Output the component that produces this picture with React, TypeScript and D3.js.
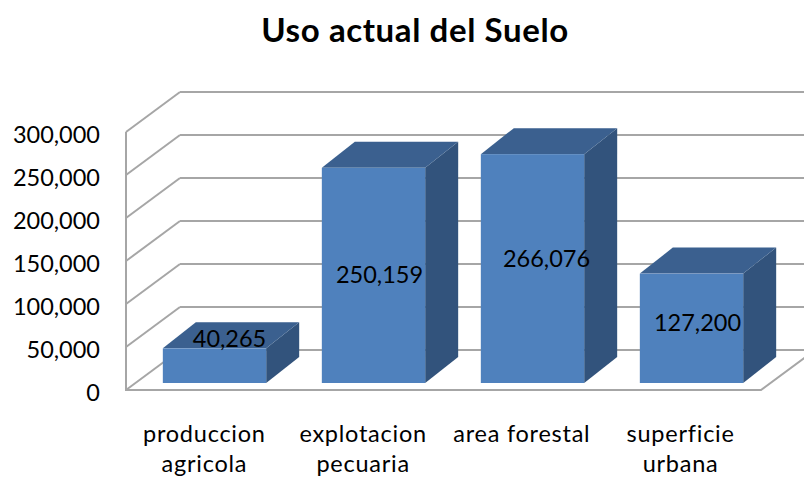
import * as d3 from "d3";

const CATEGORIES = ["produccion agricola", "explotacion pecuaria", "area forestal", "superficie urbana"];
const CATEGORY_LINES = [["produccion", "agricola"], ["explotacion", "pecuaria"], ["area forestal"], ["superficie", "urbana"]];
const VALUES = [40265, 250159, 266076, 127200];
const TICKS = [0, 50000, 100000, 150000, 200000, 250000, 300000];

const FONT = "Lato, 'Open Sans', sans-serif";
const GRID = "#a6a6a6";

// 3D projection of the chart box
const DEPTH_X = 54;
const DEPTH_Y = 40;
const BAR_DEPTH_X = 33;
const BAR_DEPTH_Y = 26;
const BAR_LIFT = 7;

// labels are not centred on the bars in the original
const LABEL_DX = [15, 6, 14, 6];
const LABEL_Y = [339, 275, 259, 323];

export default function App() {
  const width = 804;
  const height = 478;

  const y = d3.scaleLinear().domain([0, 300000]).range([390, 132]);
  const barX = d3.scaleBand<string>().domain(CATEGORIES).range([135, 771]).paddingInner(0.35).paddingOuter(0.175);
  const axisX = d3.scaleBand<string>().domain(CATEGORIES).range([126, 761]);
  const fmt = d3.format(",");

  const left = 126;
  const backLeft = left + DEPTH_X;

  return (
    <svg
      width={width}
      height={height}
      viewBox={`0 0 ${width} ${height}`}
      style={{ position: "absolute", left: 0, top: 0, background: "#fff" }}
      fontFamily={FONT}
    >
      <defs>
        <filter id="soft" x="-5%" y="-5%" width="110%" height="110%">
          <feGaussianBlur stdDeviation="0.5" />
        </filter>
      </defs>

      <text x={415} y={42} textAnchor="middle" fontSize={33} fontWeight={700} letterSpacing={0.6} fill="#000">
        Uso actual del Suelo
      </text>

      {/* Walls and grid lines */}
      <g stroke={GRID} strokeWidth={2} fill="none" filter="url(#soft)">
        <path d={`M${left},${y(300000)}V${y(0)}H761L${761 + DEPTH_X},${y(0) - DEPTH_Y}`} />
        {TICKS.map((t) => (
          <g key={t}>
            <line x1={left} x2={backLeft} y1={y(t)} y2={y(t) - DEPTH_Y} />
            <line x1={backLeft} x2={width} y1={y(t) - DEPTH_Y} y2={y(t) - DEPTH_Y} />
          </g>
        ))}
      </g>

      {/* Y axis labels */}
      {TICKS.map((t) => (
        <text key={t} x={100} y={y(t) + 3} dy="0.35em" textAnchor="end" fontSize={23.5} fill="#000">
          {fmt(t)}
        </text>
      ))}

      {/* Bars */}
      <g filter="url(#soft)">
        {VALUES.map((v, i) => {
          const x0 = barX(CATEGORIES[i]) as number;
          const x1 = x0 + barX.bandwidth();
          const top = y(v) - BAR_LIFT;
          const bottom = y(0) - BAR_LIFT;
          return (
            <g key={CATEGORIES[i]}>
              <path
                d={`M${x1},${top}L${x1 + BAR_DEPTH_X},${top - BAR_DEPTH_Y}V${bottom - BAR_DEPTH_Y}L${x1},${bottom}Z`}
                fill="#32527b"
              />
              <path
                d={`M${x0},${top}L${x0 + BAR_DEPTH_X},${top - BAR_DEPTH_Y}H${x1 + BAR_DEPTH_X}L${x1},${top}Z`}
                fill="#3b618f"
              />
              <rect x={x0} y={top} width={x1 - x0} height={bottom - top} fill="#4f81bd" />
            </g>
          );
        })}
      </g>

      {/* Value labels */}
      {VALUES.map((v, i) => {
        const cx = (barX(CATEGORIES[i]) as number) + barX.bandwidth() / 2 + LABEL_DX[i];
        return (
          <text key={v} x={cx} y={LABEL_Y[i]} dy="0.35em" textAnchor="middle" fontSize={23.5} fill="#000">
            {fmt(v)}
          </text>
        );
      })}

      {/* Category labels */}
      {CATEGORIES.map((c, i) => {
        const cx = (axisX(c) as number) + axisX.bandwidth() / 2 - 1;
        return (
          <text key={c} textAnchor="middle" fontSize={23.5} letterSpacing={0.75} fill="#000">
            {CATEGORY_LINES[i].map((line, j) => (
              <tspan key={line} x={cx} y={442 + j * 30}>
                {line}
              </tspan>
            ))}
          </text>
        );
      })}
    </svg>
  );
}
